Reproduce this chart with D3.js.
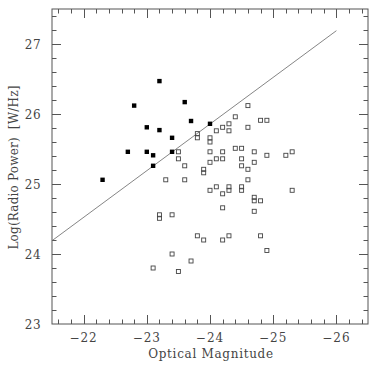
<!DOCTYPE html>
<html><head><meta charset="utf-8">
<script src="https://cdn.jsdelivr.net/npm/d3@7"></script>
<style>body{margin:0;background:#fff}svg{display:block}</style>
</head><body>
<script>
const filledMag = [-22.3,-22.7,-22.8,-23.0,-23.0,-23.1,-23.1,-23.2,-23.2,-23.4,-23.4,-23.6,-23.7,-24.0];
const filledPow = [25.06,25.46,26.12,25.81,25.46,25.41,25.26,25.77,26.47,25.66,25.46,26.17,25.90,25.86];
const openMag = [-23.5,-23.5,-23.6,-23.8,-23.8,-24.0,-24.0,-24.1,-24.0,-24.1,-24.0,-23.9,-23.9,-23.3,-23.6,-24.0,-24.1,-23.2,-23.2,-23.4,-23.8,-23.9,
  -24.6,-24.4,-24.8,-24.9,-24.3,-24.2,-24.3,-24.6,-24.4,-24.5,-24.2,-24.7,-24.9,-25.2,-25.3,-24.2,-24.5,-24.7,-24.5,-24.6,-24.6,
  -24.2,-24.3,-24.3,-24.5,-24.5,-24.7,-24.7,-24.8,-25.3,-24.2,-24.7,-24.2,-24.3,-24.8,-24.9,-23.4,-23.1,-23.7,-23.5];
const openPow = [25.46,25.36,25.26,25.72,25.66,25.66,25.60,25.76,25.46,25.36,25.31,25.21,25.16,25.06,25.06,24.91,24.96,24.56,24.51,24.56,24.26,24.20,
  26.12,25.96,25.91,25.91,25.86,25.81,25.76,25.81,25.51,25.51,25.46,25.46,25.41,25.41,25.46,25.36,25.36,25.31,25.26,25.21,25.06,
  24.86,24.96,24.91,24.96,24.91,24.81,24.76,24.76,24.91,24.66,24.61,24.20,24.26,24.26,24.05,24.00,23.80,23.90,23.75];
const lineMag = [-21.5, -26.0];
const linePow = [24.19, 27.19];
const xTicks = [-22,-23,-24,-25,-26];
const yTicks = [23,24,25,26,27];

const W = 382, H = 367;
const L = 52, R = 368, T = 9, B = 324;
const svg = d3.select("body").append("svg").attr("width", W).attr("height", H);
const x = d3.scaleLinear().domain([-21.5, -26.5]).range([L, R]);
const y = d3.scaleLinear().domain([23, 27.5]).range([B, T]);
const col = "#555";
const font = "DejaVu Serif";
const tcol = "#444";

// frame
svg.append("rect").attr("x", L).attr("y", T).attr("width", R - L).attr("height", B - T)
  .attr("fill", "none").attr("stroke", col).attr("stroke-width", 1);

// ticks (inward, all sides)
const xMinor = d3.range(-21.6, -26.5, -0.2).map(v => +v.toFixed(1));
const yMinor = d3.range(23.2, 27.5, 0.2).map(v => +v.toFixed(1));
const isMajor = v => Math.abs(v - Math.round(v)) < 1e-6;
const tg = svg.append("g").attr("stroke", col).attr("stroke-width", 1);
xMinor.forEach(v => {
  const len = isMajor(v) ? 9 : 4.5, px = Math.round(x(v)) + 0.5;
  tg.append("line").attr("x1", px).attr("x2", px).attr("y1", B).attr("y2", B - len);
  tg.append("line").attr("x1", px).attr("x2", px).attr("y1", T).attr("y2", T + len);
});
yMinor.forEach(v => {
  const len = isMajor(v) ? 9 : 4.5, py = Math.round(y(v)) + 0.5;
  tg.append("line").attr("y1", py).attr("y2", py).attr("x1", L).attr("x2", L + len);
  tg.append("line").attr("y1", py).attr("y2", py).attr("x1", R).attr("x2", R - len);
});

// tick labels
svg.append("g").selectAll("text").data(xTicks).join("text")
  .attr("x", d => x(d)).attr("y", 342).attr("text-anchor", "middle")
  .attr("font-family", font).attr("font-size", 12).attr("fill", tcol)
  .attr("letter-spacing", 1)
  .text(d => "\u2212" + Math.abs(d));
svg.append("g").selectAll("text").data(yTicks).join("text")
  .attr("x", 33).attr("y", d => y(d) + 4.5).attr("text-anchor", "middle")
  .attr("font-family", font).attr("font-size", 12).attr("fill", tcol)
  .attr("letter-spacing", 0.5)
  .text(d => d);

// axis titles
svg.append("text").attr("x", (L + R) / 2 + 1).attr("y", 358).attr("text-anchor", "middle")
  .attr("font-family", font).attr("font-size", 12).attr("fill", tcol)
  .attr("letter-spacing", 0.7).text("Optical Magnitude");
svg.append("text").attr("transform", `translate(18,${(T + B) / 2 + 1}) rotate(-90)`)
  .attr("text-anchor", "middle").attr("font-family", font).attr("font-size", 12)
  .attr("fill", tcol).attr("letter-spacing", 0.2).text("Log(Radio Power)\u00a0\u00a0[W/Hz]");

// fit line
svg.append("line").attr("x1", x(lineMag[0])).attr("y1", y(linePow[0]))
  .attr("x2", x(lineMag[1])).attr("y2", y(linePow[1]))
  .attr("stroke", "#666").attr("stroke-width", 0.8);

// open squares
const openData = openMag.map((m, i) => [m, openPow[i]]);
svg.append("g").selectAll("rect").data(openData).join("rect")
  .attr("x", d => x(d[0]) - 2).attr("y", d => y(d[1]) - 2)
  .attr("width", 4).attr("height", 4)
  .attr("fill", "none").attr("stroke", "#444").attr("stroke-width", 0.9);

// filled squares
const filledData = filledMag.map((m, i) => [m, filledPow[i]]);
svg.append("g").selectAll("rect").data(filledData).join("rect")
  .attr("x", d => x(d[0]) - 2.2).attr("y", d => y(d[1]) - 2.2)
  .attr("width", 4.4).attr("height", 4.4).attr("fill", "#000");
</script>
</body></html>
